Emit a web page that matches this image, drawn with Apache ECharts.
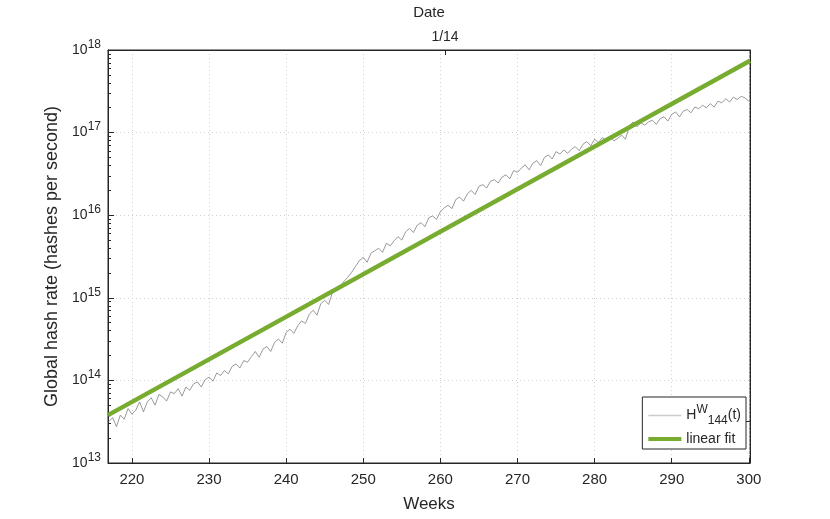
<!DOCTYPE html>
<html>
<head>
<meta charset="utf-8">
<script src="https://cdn.jsdelivr.net/npm/echarts@6/dist/echarts.min.js"></script>
<style>
  html, body { margin: 0; padding: 0; background: #fff; }
  #chart { width: 830px; height: 519px; }
</style>
</head>
<body>
<div id="chart"></div>
<script>
// weekly hash rate, one reading every half week starting at week 217
const startWeek = 217;
const stepWeek = 0.5;
// log10 of the global hash rate (hashes per second)
const log10Rate = [
  13.50, 13.55, 13.44, 13.58, 13.53, 13.66, 13.59, 13.64, 13.74, 13.62,
  13.74, 13.79, 13.70, 13.83, 13.80, 13.75, 13.86, 13.84, 13.90, 13.81,
  13.92, 13.88, 13.96, 13.98, 13.92, 14.01, 14.04, 13.99, 14.09, 14.06,
  14.12, 14.08, 14.17, 14.20, 14.15, 14.24, 14.22, 14.29, 14.35, 14.28,
  14.38, 14.41, 14.35, 14.46, 14.50, 14.45, 14.58, 14.62, 14.57, 14.66,
  14.72, 14.69, 14.80, 14.85, 14.79, 14.93, 14.97, 14.92, 15.06, 15.09,
  15.14, 15.20, 15.25, 15.31, 15.38, 15.45, 15.49, 15.43, 15.54, 15.57,
  15.60, 15.55, 15.66, 15.63, 15.69, 15.74, 15.70, 15.80, 15.84, 15.79,
  15.88, 15.91, 15.86, 15.97, 15.99, 15.95, 16.04, 16.09, 16.12, 16.08,
  16.19, 16.22, 16.17, 16.26, 16.30, 16.25, 16.35, 16.37, 16.33, 16.41,
  16.43, 16.39, 16.46, 16.49, 16.44, 16.54, 16.52, 16.57, 16.61, 16.55,
  16.63, 16.66, 16.60, 16.70, 16.73, 16.68, 16.77, 16.74, 16.79, 16.75,
  16.80, 16.83, 16.78, 16.86, 16.89, 16.84, 16.92, 16.88, 16.94, 16.91,
  16.95, 16.90, 16.93, 16.97, 16.92, 17.08, 17.13, 17.07, 17.12, 17.09,
  17.13, 17.15, 17.10, 17.17, 17.19, 17.14, 17.22, 17.25, 17.19, 17.26,
  17.28, 17.24, 17.31, 17.29, 17.33, 17.30, 17.35, 17.31, 17.38, 17.36,
  17.41, 17.37, 17.43, 17.40, 17.44, 17.42, 17.38
];

// linear fit (straight line on the log axis)
const fitWeeks = [216.9, 300.15];
const fitRate = [3.8e13, 7.4e17];

const xTicks = [220, 230, 240, 250, 260, 270, 280, 290, 300];
const dateTickWeeks = [260.6];
const dateTickLabels = ['1/14'];

const xMin = 216.9, xMax = 300.15;
const textColor = '#262626';

const hashData = log10Rate.map((v, i) => [startWeek + i * stepWeek, Math.pow(10, v)]);
const fitData = fitWeeks.map((w, i) => [w, fitRate[i]]);

// minor tick positions (2..9 x 10^n) in exponent space
const minorTicks = [];
for (let d = 13; d < 18; d++) {
  for (let m = 2; m <= 9; m++) minorTicks.push(d + Math.log10(m));
}

const chart = echarts.init(document.getElementById('chart'));
const option = {
  animation: false,
  textStyle: { fontFamily: 'Liberation Sans, Arial, sans-serif' },
  grid: {
    left: 108, right: 80, top: 48, bottom: 56,
    show: true, borderColor: textColor, borderWidth: 1, backgroundColor: '#fff'
  },
  legend: {
    orient: 'vertical',
    right: 84, bottom: 70,
    backgroundColor: '#fff',
    borderColor: textColor, borderWidth: 1, borderRadius: 0,
    padding: [7, 5, 3, 4],
    itemGap: 5, itemWidth: 33, itemHeight: 12,
    itemStyle: { opacity: 0 },
    data: [
      { name: 'hw', lineStyle: { color: '#cccccc', width: 1.5 } },
      { name: 'linear fit', lineStyle: { color: '#77ac30', width: 4 } }
    ],
    formatter: name => name === 'hw' ? 'H{sup|W}{sub|144}(t)' : name,
    textStyle: {
      fontSize: 14, color: textColor,
      rich: {
        sup: { fontSize: 12, padding: [0, 0, 11, 0], color: textColor },
        sub: { fontSize: 12, padding: [11, 0, 0, 0], color: textColor }
      }
    }
  },
  xAxis: [
    {
      type: 'value', min: xMin, max: xMax, position: 'bottom',
      name: 'Weeks', nameLocation: 'middle', nameGap: 33,
      nameTextStyle: { fontSize: 17, color: textColor },
      axisLine: { lineStyle: { color: textColor } },
      axisTick: { inside: true, length: 5, customValues: xTicks, lineStyle: { color: textColor } },
      axisLabel: { customValues: xTicks, fontSize: 15, color: textColor, margin: 9 },
      splitLine: { show: true, lineStyle: { type: [1, 3], color: '#d0d0d0' } }
    },
    {
      type: 'value', min: xMin, max: xMax, position: 'top',
      name: 'Date', nameLocation: 'middle', nameGap: 30,
      nameTextStyle: { fontSize: 15, color: textColor },
      axisLine: { lineStyle: { color: textColor } },
      axisTick: { inside: true, length: 5, customValues: dateTickWeeks, lineStyle: { color: textColor } },
      axisLabel: {
        customValues: dateTickWeeks, fontSize: 14, color: textColor, margin: 6,
        formatter: v => dateTickLabels[dateTickWeeks.indexOf(v)] || ''
      },
      splitLine: { show: false }
    }
  ],
  yAxis: [
    {
      type: 'log', logBase: 10, min: 1e13, max: 1e18, position: 'left',
      name: 'Global hash rate (hashes per second)', nameLocation: 'middle', nameGap: 47,
      nameTextStyle: { fontSize: 18, color: textColor },
      axisLine: { lineStyle: { color: textColor } },
      axisTick: { inside: true, length: 6, lineStyle: { color: textColor } },
      axisLabel: {
        fontSize: 14, color: textColor, margin: 7,
        formatter: v => '10{sup|' + Math.round(Math.log10(v)) + '}',
        rich: { sup: { fontSize: 12, padding: [0, 0, 11, 0], color: textColor } }
      },
      splitLine: { show: true, lineStyle: { type: [1, 3], color: '#d0d0d0' } }
    },
    {
      type: 'value', min: 13, max: 18, position: 'left',
      axisLine: { show: false },
      axisTick: { inside: true, length: 3, customValues: minorTicks, lineStyle: { color: textColor } },
      axisLabel: { show: false },
      splitLine: { show: false }
    },
    {
      type: 'value', min: 0, max: 1, position: 'right',
      axisLine: { show: true, lineStyle: { color: textColor } },
      axisTick: { inside: true, length: 5, customValues: [0, 0.1], lineStyle: { color: textColor } },
      axisLabel: { show: false },
      splitLine: { show: false }
    }
  ],
  series: [
    {
      name: 'hw', type: 'line', xAxisIndex: 0, yAxisIndex: 0,
      data: hashData, symbol: 'circle', showSymbol: false,
      lineStyle: { color: '#808080', width: 0.8 },
      itemStyle: { color: '#cccccc' },
      z: 2
    },
    {
      name: 'linear fit', type: 'line', xAxisIndex: 0, yAxisIndex: 0,
      data: fitData, symbol: 'circle', showSymbol: false,
      lineStyle: { color: '#77ac30', width: 4.5 },
      itemStyle: { color: '#77ac30' },
      z: 3
    }
  ]
};
chart.setOption(option);
</script>
</body>
</html>
